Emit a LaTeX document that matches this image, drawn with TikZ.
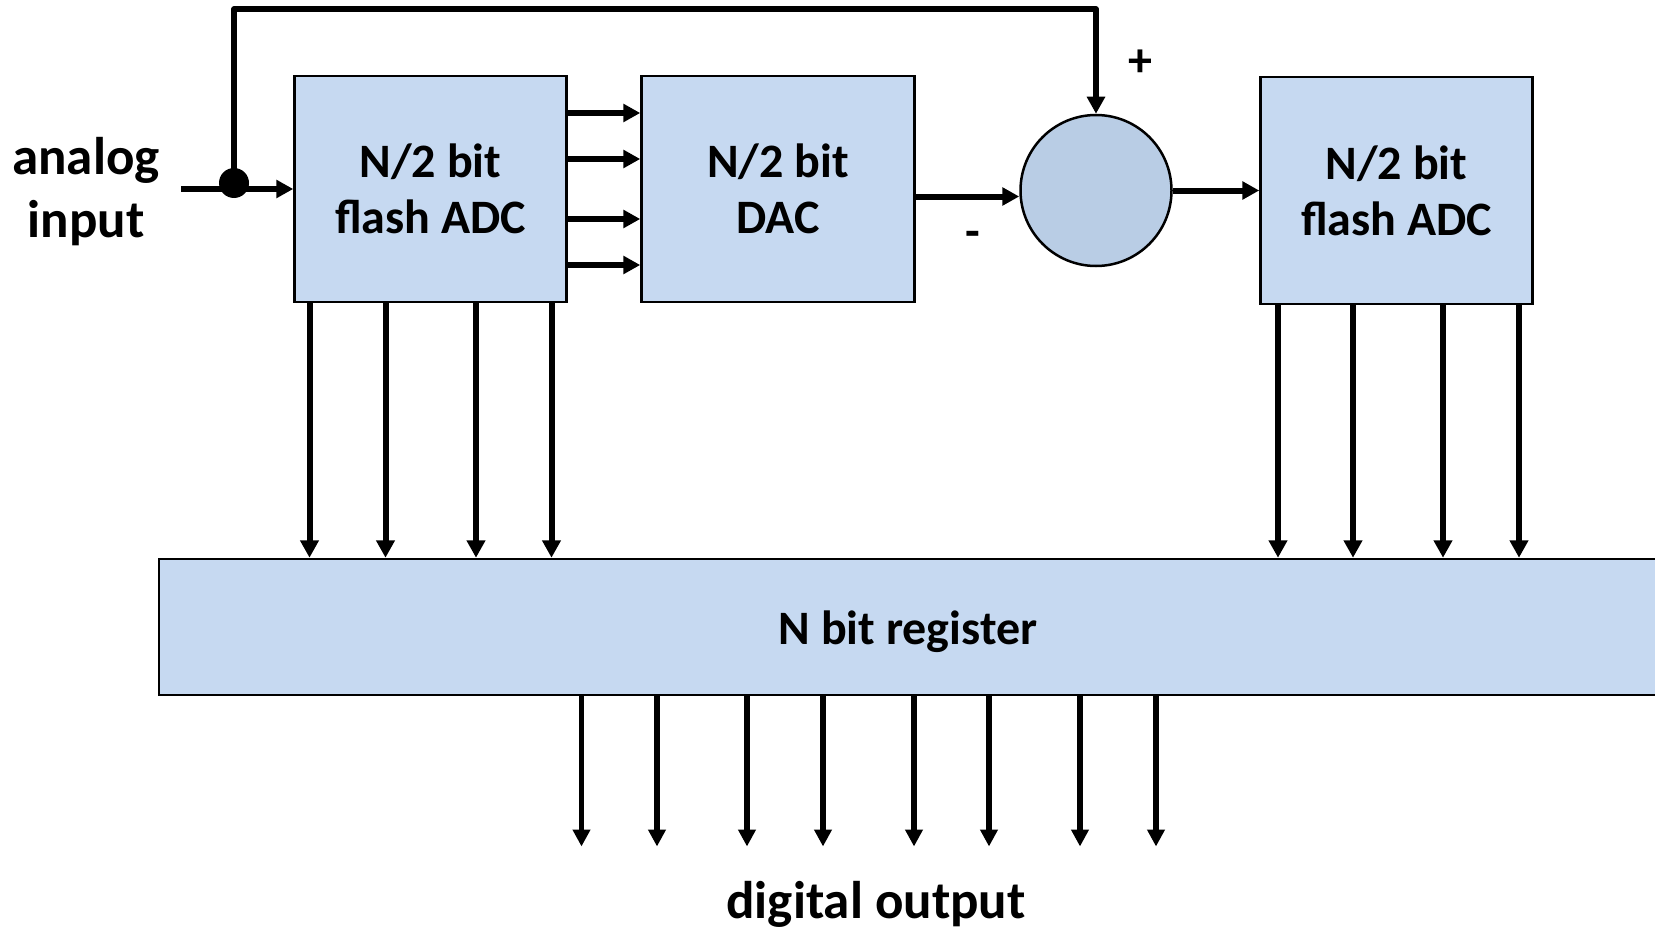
\documentclass[tikz,border=0pt]{standalone}
\usepackage{fontspec}
\setmainfont{Carlito}
\usetikzlibrary{arrows.meta}
\definecolor{boxblue}{HTML}{C6D9F1}
\definecolor{sumblue}{HTML}{B9CDE5}
\begin{document}
\begin{tikzpicture}[x=1pt,y=-1pt,
  blk/.style={draw=black, line width=2.5pt, fill=boxblue, inner sep=0pt,
    font=\bfseries\fontsize{48}{56}\selectfont, align=center},
  sig/.style={line width=6pt, -{Triangle[length=17pt,width=17.5pt]}},
  bus/.style={line width=6pt, -{Triangle[length=17.5pt,width=18pt]}},
  obus/.style={line width=5.3pt, -{Triangle[length=17pt,width=17pt]}},
  lbl/.style={font=\bfseries\fontsize{53}{63}\selectfont, align=center, inner sep=0pt},
  sgn/.style={font=\bfseries\fontsize{48}{56}\selectfont, inner sep=0pt}]
\useasboundingbox (0,0) rectangle (1655,931);

\node[blk, minimum width=272pt, minimum height=226pt] (adc1) at (430.5,189) {N/2 bit\\flash ADC};
\node[blk, minimum width=273pt, minimum height=226pt] (dac) at (778,189) {N/2 bit\\DAC};
\node[draw=black, line width=2.5pt, fill=sumblue, circle, minimum size=151pt, inner sep=0pt] (sum) at (1096,190.5) {};
\node[blk, minimum width=272pt, minimum height=227pt] (adc2) at (1396.5,190.5) {N/2 bit\\flash ADC};
\node[blk, minimum width=1498pt, minimum height=136pt] (reg) at (908,627) {};
\node[sgn] (regtxt) at (reg.center) [yshift=-5pt] {N bit register};

\node[lbl] (ain) at (86,192) {analog\\input};
\node[lbl] (dout) at (876,904) {digital output};
\node[sgn] (plus) at (1140,63) {+};
\node[sgn] (minus) at (973,239) {-};

\coordinate (in) at (181,189);
\node[circle, fill=black, minimum size=30pt, inner sep=0pt] (j) at (234,183) {};
\coordinate (fb) at (234,9);

\draw[sig] (in) -- (adc1.west);
\draw[sig, line width=5.7pt, line join=round] (j.center) -- (fb) -| (sum.north);

\foreach \y in {113,159,219,265}
  \draw[sig] (adc1.east |- 0,\y) -- (dac.west |- 0,\y);

\draw[sig] (dac.east |- 0,196.5) -- (sum.west |- 0,196.5);
\draw[sig] (sum.east) -- (adc2.west |- sum.east);

\foreach \x in {309.5,385.5,476,551.5}
  \draw[bus] (adc1.south -| \x,0) -- (reg.north -| \x,0);
\foreach \x in {1278,1353,1443,1519}
  \draw[bus] (adc2.south -| \x,0) -- (reg.north -| \x,0);

\foreach \x in {581.5,657,747,823,914,989,1080,1156}
  \draw[obus] (reg.south -| \x,0) -- (\x,846.5);
\end{tikzpicture}
\end{document}
